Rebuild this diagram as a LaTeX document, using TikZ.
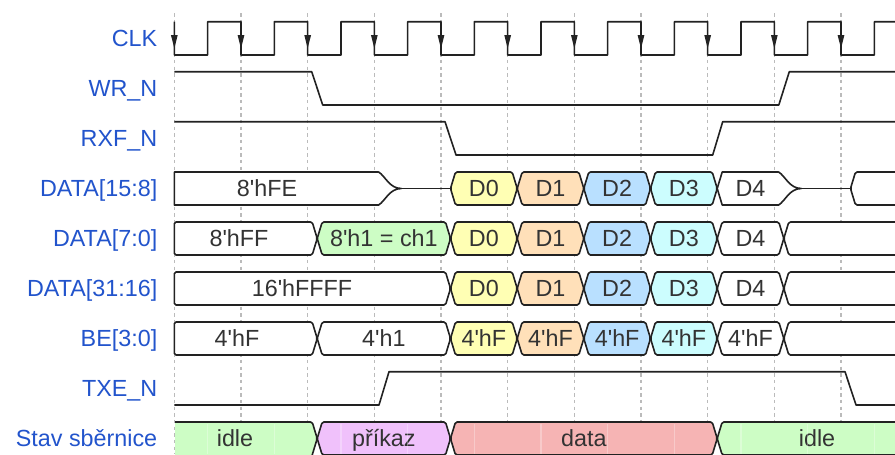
\documentclass[tikz,border=0pt]{standalone}
\usepackage{fontspec}
\newfontfamily\wf{Liberation Sans}
\definecolor{labblue}{RGB}{34,84,204}
\definecolor{wirec}{HTML}{222222}
\definecolor{gridc}{HTML}{BBBBBB}
\definecolor{cy}{HTML}{FFFFB4}
\definecolor{co}{HTML}{FFE0B9}
\definecolor{cb}{HTML}{B9E0FF}
\definecolor{cc}{HTML}{CCFDFE}
\definecolor{cg}{HTML}{CDFDC5}
\definecolor{cp}{HTML}{F0C1FB}
\definecolor{cr}{HTML}{F6B4B4}

% clock grid (falling edges)
\def\gA{174.3}\def\gB{241}\def\gC{307.7}\def\gD{374.3}\def\gE{441}
\def\gF{507.7}\def\gG{574.3}\def\gH{641}\def\gI{707.7}\def\gJ{774.3}\def\gK{841}

% #1 name, #2 centre y, #3 left grid, #4 right grid, #5 fill, #6 text
\newcommand\hexcell[6]{%
  \draw[bus,fill=#5] (#3+9.5,#2) -- (#3+14.5,#2-16.5) -- (#4+4.5,#2-16.5)
    -- (#4+9.5,#2) -- (#4+4.5,#2+16.5) -- (#3+14.5,#2+16.5) -- cycle;
  \node[val] (#1) at ({(#3+#4)/2+9.5},#2+8.3) {#6};}
% #1 name, #2 centre y, #3 right grid, #4 fill, #5 text, #6 text x
\newcommand\startcell[6]{%
  \draw[bus,fill=#4] (\gA,#2-16.5) -- (#3+4.5,#2-16.5) -- (#3+9.5,#2)
    -- (#3+4.5,#2+16.5) -- (\gA,#2+16.5) -- cycle;
  \node[val] (#1) at (#6,#2+8.3) {#5};}
% #1 centre y, #2 left grid, #3 fill
\newcommand\opencell[3]{%
  \draw[bus,fill=#3] (905,#1-16.5) -- (#2+14.5,#1-16.5) -- (#2+9.5,#1)
    -- (#2+14.5,#1+16.5) -- (905,#1+16.5);}
% tail into high impedance at grid #1 (row centre in \cy)
\newcommand\ztail[1]{(#1+4.3,\cy-16.5) .. controls (#1+11,\cy-12.5) and (#1+15,\cy) .. (#1+27,\cy)
  .. controls (#1+15,\cy) and (#1+11,\cy+12.5) .. (#1+4.3,\cy+16.5)}

\begin{document}
\begin{tikzpicture}[x=0.75pt,y=-0.75pt,
  wire/.style={draw=wirec,line width=1.2pt,line join=round},
  bus/.style={wire,rounded corners=1.2pt},
  gridln/.style={draw=gridc,line width=0.9pt,dash pattern=on 2.5pt off 2.5pt},
  lab/.style={font=\wf\fontsize{17.5}{20}\selectfont,text=labblue,anchor=base east,inner sep=0pt},
  val/.style={font=\wf\fontsize{17.5}{20}\selectfont,text=black!80,anchor=base,inner sep=0pt},
  seam/.style={draw=white,opacity=0.3,line width=0.8pt}]
\useasboundingbox (0,0) rectangle (895,454);
\fill[white] (0,0) rectangle (895,454);
\clip (0,0) rectangle (895,454);

% grid lines
\foreach \k in {0,...,10}
  \draw[gridln] ({174.33+66.667*\k},13.3) -- ({174.33+66.667*\k},454);

% signal names
\node[lab] (lclk) at (157.5,46.7) {CLK};
\node[lab] (lwr)  at (157.5,96.7) {WR\_N};
\node[lab] (lrxf) at (157.5,146.7) {RXF\_N};
\node[lab] (ld15) at (157.5,196.8) {DATA[15:8]};
\node[lab] (ld7)  at (157.5,246.8) {DATA[7:0]};
\node[lab] (ld31) at (157.5,296.8) {DATA[31:16]};
\node[lab] (lbe)  at (157.5,346.8) {BE[3:0]};
\node[lab] (ltxe) at (157.5,396.7) {TXE\_N};
\node[lab] (lst)  at (157.5,446.8) {Stav sběrnice};

% CLK
\draw[wire] (\gA,21.7) \foreach \k in {0,...,10} {
  -- ({174.33+66.667*\k},55) -- ({207.67+66.667*\k},55)
  -- ({207.67+66.667*\k},21.7) -- ({241+66.667*\k},21.7) };
\foreach \k in {0,...,10}
  \fill[wirec] ({174.33+66.667*\k-3.4},35) -- ({174.33+66.667*\k+3.4},35)
    -- ({174.33+66.667*\k},48.5) -- cycle;

% WR_N, RXF_N, TXE_N
\draw[wire] (\gA,71.7) -- (\gC+4,71.7) -- (\gC+15,105) -- (\gJ+4.5,105)
  -- (\gJ+15,71.7) -- (900,71.7);
\draw[wire] (\gA,121.7) -- (\gE+4,121.7) -- (\gE+15,155) -- (\gI+5,155)
  -- (\gI+15,121.7) -- (900,121.7);
\draw[wire] (\gA,405) -- (\gD+4.7,405) -- (\gD+14.7,371.7) -- (\gK+4,371.7)
  -- (\gK+15,405) -- (900,405);

% DATA[15:8]
\def\cy{188.5}
\draw[wire,fill=white] (\gA,205) -- (\gA,172) -- \ztail{\gD} -- cycle;
\node[val] (a0) at (267,196.8) {8'hFE};
\draw[wire] (\gD+27,188.5) -- (\gE+9.5,188.5);
\hexcell{a1}{188.5}{\gE}{\gF}{cy}{D0}
\hexcell{a2}{188.5}{\gF}{\gG}{co}{D1}
\hexcell{a3}{188.5}{\gG}{\gH}{cb}{D2}
\hexcell{a4}{188.5}{\gH}{\gI}{cc}{D3}
\draw[wire,fill=white] (\gI+9.5,188.5) -- (\gI+14.5,172) -- \ztail{\gJ} -- (\gI+14.5,205) -- cycle;
\node[val] (a5) at ({(\gI+\gJ)/2+9.5},196.8) {D4};
\draw[wire] (\gJ+27,188.5) -- (\gK+9.5,188.5);
\opencell{188.5}{\gK}{white}

% DATA[7:0]
\startcell{b0}{238.5}{\gC}{white}{8'hFF}{239}
\hexcell{b1}{238.5}{\gC}{\gE}{cg}{8'h1 = ch1}
\hexcell{b2}{238.5}{\gE}{\gF}{cy}{D0}
\hexcell{b3}{238.5}{\gF}{\gG}{co}{D1}
\hexcell{b4}{238.5}{\gG}{\gH}{cb}{D2}
\hexcell{b5}{238.5}{\gH}{\gI}{cc}{D3}
\hexcell{b6}{238.5}{\gI}{\gJ}{white}{D4}
\opencell{238.5}{\gJ}{white}

% DATA[31:16]
\startcell{c0}{288.5}{\gE}{white}{16'hFFFF}{302}
\hexcell{c1}{288.5}{\gE}{\gF}{cy}{D0}
\hexcell{c2}{288.5}{\gF}{\gG}{co}{D1}
\hexcell{c3}{288.5}{\gG}{\gH}{cb}{D2}
\hexcell{c4}{288.5}{\gH}{\gI}{cc}{D3}
\hexcell{c5}{288.5}{\gI}{\gJ}{white}{D4}
\opencell{288.5}{\gJ}{white}

% BE[3:0]
\startcell{d0}{338.5}{\gC}{white}{4'hF}{237}
\hexcell{d1}{338.5}{\gC}{\gE}{white}{4'h1}
\hexcell{d2}{338.5}{\gE}{\gF}{cy}{4'hF}
\hexcell{d3}{338.5}{\gF}{\gG}{co}{4'hF}
\hexcell{d4}{338.5}{\gG}{\gH}{cb}{4'hF}
\hexcell{d5}{338.5}{\gH}{\gI}{cc}{4'hF}
\hexcell{d6}{338.5}{\gI}{\gJ}{white}{4'hF}
\opencell{338.5}{\gJ}{white}

% bus state
\fill[cg] (\gA+0.8,422) -- (\gC+4.5,422) -- (\gC+9.5,438.5) -- (\gC+4.5,455) -- (\gA+0.8,455) -- cycle;
\draw[bus] (\gA+0.8,422) -- (\gC+4.5,422) -- (\gC+9.5,438.5) -- (\gC+4.5,455);
\node[val] (e0) at (235,446.8) {idle};
\hexcell{e1}{438.5}{\gC}{\gE}{cp}{příkaz}
\hexcell{e2}{438.5}{\gE}{\gI}{cr}{data}
\opencell{438.5}{\gI}{cg}
\node[val] (e3) at (817,446.8) {idle};
\foreach \sx in {207.7,274.3,341,407.7,474.3,541,607.7,674.3,741,807.7,874.3}
  \draw[seam] (\sx,423.5) -- (\sx,454);
\end{tikzpicture}
\end{document}
